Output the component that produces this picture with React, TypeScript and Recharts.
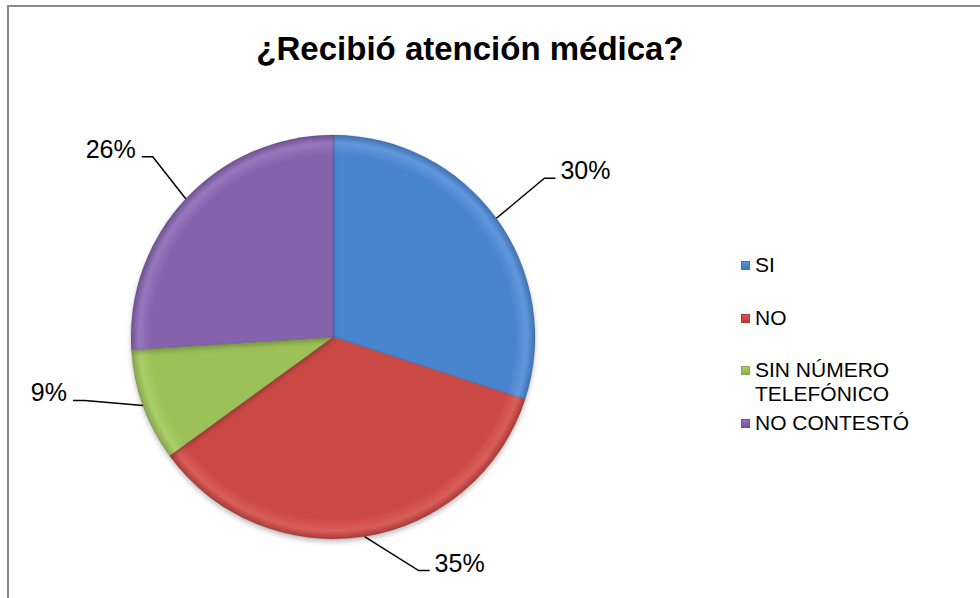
import React from "react";
import { PieChart, Pie, Cell, Legend } from "recharts";

const categories = ["SI", "NO", "SIN NÚMERO TELEFÓNICO", "NO CONTESTÓ"];
const legendLines = [["SI"], ["NO"], ["SIN NÚMERO", "TELEFÓNICO"], ["NO CONTESTÓ"]];
const values = [30, 35, 9, 26];
const title = "¿Recibió atención médica?";

const palette = [
  { base: "#4A84CE", light: "#6297DC", dark: "#3F72B4" },
  { base: "#CB4844", light: "#D85E5A", dark: "#A93A37" },
  { base: "#9CC159", light: "#AACE6A", dark: "#86A74B" },
  { base: "#8462AC", light: "#9677BC", dark: "#6F5293" },
];

// leader line geometry per label: elbow offset from the slice edge and horizontal run
const leader = [
  { ex: 48, ey: -40, run: 11 },
  { ex: 54, ey: 34, run: 11 },
  { ex: -58, ey: -5, run: -12 },
  { ex: -33, ey: -42, run: -11 },
];

const data = categories.map((name, i) => ({ name, value: values[i] }));
const FONT = "'Liberation Sans', Arial, sans-serif";
const RAD = Math.PI / 180;

const renderLabel = (props: any) => {
  const { cx, cy, midAngle, outerRadius, index, percent } = props;
  const sx = cx + outerRadius * Math.cos(-midAngle * RAD);
  const sy = cy + outerRadius * Math.sin(-midAngle * RAD);
  const l = leader[index];
  const mx = sx + l.ex;
  const my = sy + l.ey;
  const exx = mx + l.run;
  const right = l.run > 0;
  return (
    <g key={`lbl-${index}`}>
      <polyline
        points={`${sx},${sy} ${mx},${my} ${exx},${my}`}
        fill="none"
        stroke="#000"
        strokeWidth={1.5}
      />
      <text
        x={right ? exx + 5 : exx - 6}
        y={my + 1}
        textAnchor={right ? "start" : "end"}
        fontFamily={FONT}
        fontSize={25}
        fill="#000"
      >
        {`${Math.round(percent * 100)}%`}
      </text>
    </g>
  );
};

const renderLegend = () => (
  <div style={{ fontFamily: FONT, fontSize: 21, color: "#000" }}>
    {legendLines.map((lines, i) => (
      <div key={i} style={{ position: "relative", height: 52.5, lineHeight: "24px" }}>
        <div
          style={{
            position: "absolute",
            left: 0,
            top: 8,
            width: 9,
            height: 9,
            background: `linear-gradient(180deg, ${palette[i].light}, ${palette[i].base} 50%, ${palette[i].dark})`,
            boxShadow: `inset 0 0 0 1px ${palette[i].dark}`,
          }}
        />
        <div style={{ position: "absolute", left: 14, top: 0, whiteSpace: "nowrap" }}>
          {lines.map((t, j) => (
            <div key={j}>{t}</div>
          ))}
        </div>
      </div>
    ))}
  </div>
);

export default function App() {
  return (
    <div
      style={{
        position: "absolute",
        left: 0,
        top: 0,
        width: 980,
        height: 598,
        overflow: "hidden",
        background: "#fff",
      }}
    >
      <div
        style={{
          position: "absolute",
          left: 7,
          top: 5,
          width: 1000,
          height: 640,
          border: "2px solid #8a8a8a",
        }}
      />
      <div
        style={{
          position: "absolute",
          left: 0,
          width: 940,
          top: 29,
          textAlign: "center",
          fontFamily: FONT,
          fontWeight: "bold",
          fontSize: 33,
          lineHeight: "40px",
          color: "#000",
        }}
      >
        {title}
      </div>
      <div style={{ position: "absolute", left: 0, top: 0 }}>
        <PieChart width={980} height={598} margin={{ top: 0, right: 0, bottom: 0, left: 0 }}>
          <defs>
            <filter id="pieShadow" x="-10%" y="-10%" width="120%" height="125%">
              <feDropShadow dx="0" dy="3" stdDeviation="2.5" floodColor="#000" floodOpacity="0.25" />
            </filter>
            {palette.map((p, i) => (
              <radialGradient
                key={i}
                id={`grad${i}`}
                gradientUnits="userSpaceOnUse"
                cx={333}
                cy={337}
                r={202}
              >
                <stop offset="0%" stopColor={p.base} />
                <stop offset="90%" stopColor={p.base} />
                <stop offset="96%" stopColor={p.light} />
                <stop offset="100%" stopColor={p.dark} />
              </radialGradient>
            ))}
          </defs>
          <Pie
            data={data}
            dataKey="value"
            nameKey="name"
            cx={333}
            cy={337}
            outerRadius={202}
            startAngle={90}
            endAngle={-270}
            stroke="rgba(0,0,0,0.12)"
            strokeWidth={1}
            label={renderLabel}
            labelLine={false}
            isAnimationActive={false}
          >
            {data.map((d, i) => (
              <Cell key={d.name} fill={`url(#grad${i})`} filter="url(#pieShadow)" />
            ))}
          </Pie>
          <Legend
            content={renderLegend}
            wrapperStyle={{ position: "absolute", left: 741, top: 253, width: 220 }}
          />
        </PieChart>
      </div>
    </div>
  );
}
